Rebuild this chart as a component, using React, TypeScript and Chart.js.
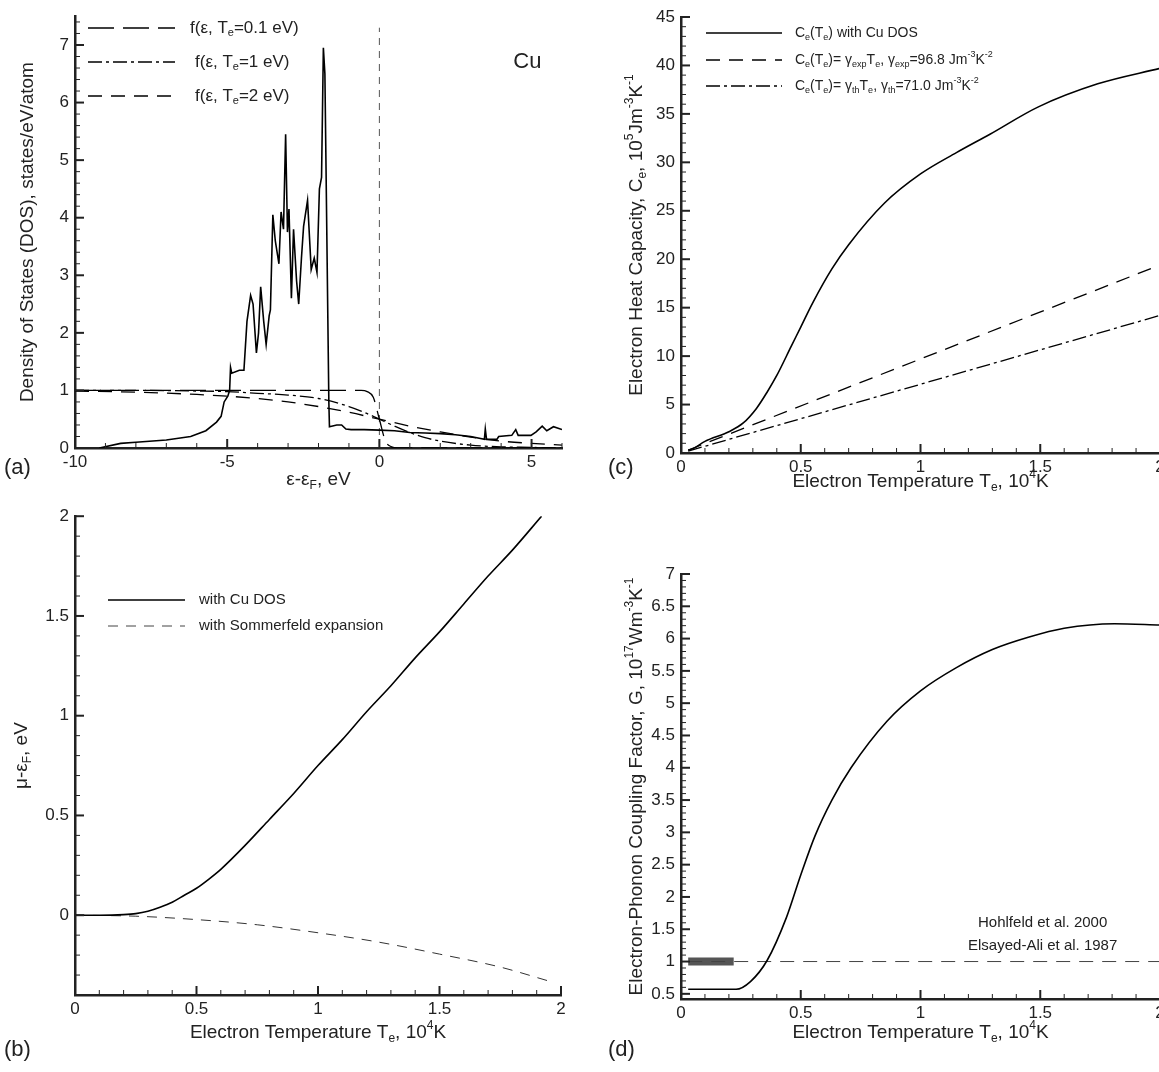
import React, { useRef, useEffect } from "react";
import Chart from "chart.js/auto";

const FONT = "'Liberation Sans', Arial, sans-serif";
const INK = "#222";

// ---- (a) density of states and Fermi functions
const dosE = [-9.2, -8.5, -8, -7, -6.2, -5.7, -5.35, -5.2, -5.1, -4.98, -4.92, -4.89, -4.85, -4.6, -4.45, -4.35, -4.23, -4.15, -4.04, -3.97, -3.9, -3.8, -3.72, -3.62, -3.58, -3.5, -3.42, -3.3, -3.23, -3.15, -3.08, -3.02, -2.97, -2.89, -2.82, -2.72, -2.65, -2.56, -2.49, -2.36, -2.24, -2.14, -2.05, -1.97, -1.9, -1.84, -1.79, -1.66, -1.64, -1.4, -1.24, -1.1, -0.93, -0.5, 0, 0.5, 1, 1.5, 2, 2.5, 3, 3.45, 3.48, 3.52, 3.86, 3.92, 4.35, 4.48, 4.56, 4.98, 5.15, 5.35, 5.5, 5.72, 6];
const dosV = [0, 0.08, 0.1, 0.14, 0.2, 0.3, 0.45, 0.55, 0.8, 0.9, 1.0, 1.4, 1.3, 1.35, 1.35, 2.2, 2.65, 2.5, 1.65, 2.0, 2.8, 2.2, 1.8, 2.3, 2.4, 4.05, 3.6, 3.2, 4.1, 3.8, 5.45, 3.75, 4.15, 2.6, 3.8, 2.9, 2.5, 3.3, 3.85, 4.3, 3.1, 3.3, 3.05, 4.5, 4.7, 6.95, 6.5, 0.8, 0.37, 0.4, 0.4, 0.33, 0.32, 0.32, 0.31, 0.3, 0.27, 0.26, 0.25, 0.23, 0.2, 0.15, 0.33, 0.15, 0.15, 0.2, 0.22, 0.32, 0.22, 0.22, 0.28, 0.38, 0.3, 0.37, 0.32];
const f01E = [-10, -0.6, -0.4, -0.2, 0, 0.2, 0.4, 0.6, 6];
const f01V = [1, 1, 0.98, 0.88, 0.5, 0.12, 0.02, 0, 0];
const f1E = [-10, -8, -6, -5, -4, -3, -2, -1, -0.5, 0, 0.5, 1, 1.5, 2, 3, 4, 5, 6];
const f1V = [1, 1, 0.99, 0.98, 0.95, 0.92, 0.86, 0.72, 0.62, 0.5, 0.38, 0.27, 0.18, 0.12, 0.05, 0.02, 0.01, 0];
const f2E = [-10, -8, -6, -5, -4, -3, -2, -1, 0, 1, 2, 3, 4, 5, 6];
const f2V = [0.99, 0.97, 0.93, 0.9, 0.86, 0.8, 0.72, 0.62, 0.5, 0.38, 0.28, 0.19, 0.12, 0.08, 0.05];

// ---- (b) chemical potential
const muT = [0, 0.1, 0.2, 0.25, 0.3, 0.35, 0.4, 0.45, 0.5, 0.55, 0.6, 0.7, 0.8, 0.9, 1, 1.1, 1.2, 1.3, 1.4, 1.5, 1.6, 1.7, 1.8, 1.92];
const muDos = [0, 0, 0.003, 0.008, 0.02, 0.04, 0.065, 0.1, 0.135, 0.18, 0.23, 0.35, 0.48, 0.61, 0.75, 0.88, 1.02, 1.15, 1.29, 1.42, 1.56, 1.7, 1.83, 2.0];
const sommT = [0, 0.25, 0.5, 0.75, 1, 1.25, 1.5, 1.75, 1.95];
const sommV = [0, -0.005, -0.022, -0.048, -0.088, -0.135, -0.195, -0.26, -0.33];

// ---- (c) heat capacity
const ceT = [0.03, 0.05, 0.1, 0.2, 0.26, 0.315, 0.36, 0.4, 0.46, 0.5, 0.55, 0.63, 0.7, 0.85, 1.0, 1.15, 1.29, 1.49, 1.74, 2.0];
const ceDos = [0.3, 0.45, 1.2, 2.2, 3.1, 4.6, 6.3, 8.0, 11.0, 13.0, 15.5, 19.0, 21.5, 25.8, 28.8, 31.0, 32.9, 35.7, 38.1, 39.7];
const linT = [0.03, 2.0];
const ceExp = [0.3, 19.4];
const ceTh = [0.2, 14.2];

// ---- (d) coupling factor
const gT = [0.03, 0.23, 0.29, 0.36, 0.44, 0.5, 0.56, 0.63, 0.71, 0.86, 1.0, 1.15, 1.3, 1.45, 1.6, 1.81, 2.0];
const gV = [0.57, 0.57, 0.69, 1.02, 1.68, 2.34, 2.95, 3.5, 4.0, 4.72, 5.19, 5.55, 5.83, 6.02, 6.16, 6.23, 6.21];
const expT = [0.03, 2.0];
const expV = [1, 1];
const barT = [0.03, 0.22];
const barV = [1, 1];

const pts = (xs: number[], ys: number[]) => xs.map((x, i) => ({ x, y: ys[i] }));

// text with _{sub} and ^{sup}
function parseRich(s: string) {
  const out: { t: string; m: number }[] = [];
  const re = /([_^])\{([^}]*)\}/g;
  let last = 0;
  let m: RegExpExecArray | null;
  while ((m = re.exec(s))) {
    if (m.index > last) out.push({ t: s.slice(last, m.index), m: 0 });
    out.push({ t: m[2], m: m[1] === "_" ? -1 : 1 });
    last = re.lastIndex;
  }
  if (last < s.length) out.push({ t: s.slice(last), m: 0 });
  return out;
}

function drawRich(ctx: CanvasRenderingContext2D, s: string, x: number, y: number, size: number, align = "left", rot = 0) {
  const segs = parseRich(s);
  const small = Math.round(size * 0.62);
  let w = 0;
  for (const g of segs) {
    ctx.font = `${g.m ? small : size}px ${FONT}`;
    w += ctx.measureText(g.t).width;
  }
  ctx.save();
  ctx.translate(x, y);
  ctx.rotate(rot);
  ctx.fillStyle = INK;
  ctx.textBaseline = "middle";
  ctx.textAlign = "left";
  let cx = align === "center" ? -w / 2 : 0;
  for (const g of segs) {
    ctx.font = `${g.m ? small : size}px ${FONT}`;
    const dy = g.m === -1 ? size * 0.3 : g.m === 1 ? -size * 0.38 : 0;
    ctx.fillText(g.t, cx, dy);
    cx += ctx.measureText(g.t).width;
  }
  ctx.restore();
}

// inward major / minor tick marks, axis titles, legends and notes
const decor = {
  id: "decor",
  afterDraw(chart: any) {
    const o = chart.options.plugins.decor;
    const ctx = chart.ctx as CanvasRenderingContext2D;
    const xs = chart.scales.x;
    const ys = chart.scales.y;
    const a = chart.chartArea;
    ctx.save();
    ctx.strokeStyle = INK;
    const tick = (scale: any, minor: number, horiz: boolean) => {
      const eps = 1e-6;
      const start = Math.ceil((scale.min - eps) / minor) * minor;
      for (let v = start; v <= scale.max + eps; v += minor) {
        const isMajor = scale.ticks.some((t: any) => Math.abs(t.value - v) < minor / 10);
        const len = isMajor ? 9 : 5;
        ctx.lineWidth = isMajor ? 2 : 1;
        const p = scale.getPixelForValue(v);
        ctx.beginPath();
        if (horiz) {
          ctx.moveTo(p, a.bottom);
          ctx.lineTo(p, a.bottom - len);
        } else {
          ctx.moveTo(a.left, p);
          ctx.lineTo(a.left + len, p);
        }
        ctx.stroke();
      }
    };
    tick(xs, o.xMinor, true);
    tick(ys, o.yMinor, false);
    ctx.restore();

    drawRich(ctx, o.xTitle, (a.left + a.right) / 2, o.xTitleY, 19, "center");
    drawRich(ctx, o.yTitle, o.yTitleX, (a.top + a.bottom) / 2, 19, "center", -Math.PI / 2);

    for (const l of o.legend || []) {
      ctx.save();
      ctx.strokeStyle = l.color || "#000";
      ctx.lineWidth = l.width || 1.5;
      ctx.setLineDash(l.dash || []);
      ctx.beginPath();
      ctx.moveTo(l.x0, l.y);
      ctx.lineTo(l.x1, l.y);
      ctx.stroke();
      ctx.restore();
      drawRich(ctx, l.text, l.tx, l.y, l.size);
    }
    for (const n of o.notes || []) {
      drawRich(ctx, n.text, xs.getPixelForValue(n.x), ys.getPixelForValue(n.y), n.size, n.align);
    }
  },
};

function ds(data: any[], dash: number[], width = 1.5, color = "#000", smooth = false) {
  return {
    data,
    borderColor: color,
    borderWidth: width,
    borderDash: dash,
    pointRadius: 0,
    fill: false,
    cubicInterpolationMode: smooth ? "monotone" : "default",
    tension: 0,
    borderCapStyle: "butt",
  };
}

const fmt = (v: any) => String(Math.round(Number(v) * 100) / 100);

function makeConfig(p: any) {
  const { W, H, area } = p;
  return {
    type: "line",
    data: { datasets: p.datasets },
    options: {
      animation: false,
      responsive: false,
      layout: { padding: { left: 0, right: W - area.right, top: area.top, bottom: 0 } },
      plugins: { legend: { display: false }, tooltip: { enabled: false }, decor: p.decor },
      scales: {
        x: {
          type: "linear",
          min: p.x[0],
          max: p.x[1],
          grid: { display: false, drawTicks: false },
          border: { display: true, width: 2.5, color: INK },
          ticks: { stepSize: p.x[2], includeBounds: false, padding: 4, color: INK, font: { family: FONT, size: 17 }, maxRotation: 0, autoSkip: false, callback: fmt },
          afterFit: (s: any) => { s.height = H - area.bottom; },
        },
        y: {
          type: "linear",
          min: p.y[0],
          max: p.y[1],
          grid: { display: false, drawTicks: false },
          border: { display: true, width: 2.5, color: INK },
          ticks: { stepSize: p.y[2], includeBounds: false, padding: 6, color: INK, font: { family: FONT, size: 17 }, autoSkip: false, callback: fmt },
          afterFit: (s: any) => { s.width = area.left; },
        },
      },
    },
  };
}

const dash01 = [26, 9];
const dash1 = [14, 4, 3, 4];
const dash2 = [14, 9];

const panels = [
  {
    left: 0, top: 0, W: 600, H: 500,
    area: { left: 75, right: 562, top: 12, bottom: 448 },
    x: [-10, 6, 5], y: [0, 7.5, 1],
    datasets: [
      ds(pts(dosE, dosV), [], 1.6),
      ds(pts(f01E, f01V), dash01, 1.3, "#000", true),
      ds(pts(f1E, f1V), dash1, 1.3, "#000", true),
      ds(pts(f2E, f2V), dash2, 1.3, "#000", true),
      ds([{ x: 0, y: 0 }, { x: 0, y: 7.3 }], [7, 6], 1, "#555"),
    ],
    decor: {
      xMinor: 1, yMinor: 0.2,
      xTitle: "ε-ε_{F}, eV", xTitleY: 480,
      yTitle: "Density of States (DOS), states/eV/atom", yTitleX: 28,
      legend: [
        { x0: 88, x1: 175, y: 28, dash: dash01, text: "f(ε, T_{e}=0.1 eV)", tx: 190, size: 17 },
        { x0: 88, x1: 175, y: 62, dash: dash1, text: "f(ε, T_{e}=1 eV)", tx: 195, size: 17 },
        { x0: 88, x1: 175, y: 96, dash: dash2, text: "f(ε, T_{e}=2 eV)", tx: 195, size: 17 },
      ],
      notes: [{ text: "Cu", x: 4.4, y: 6.7, size: 22, align: "left" }],
    },
  },
  {
    left: 0, top: 500, W: 600, H: 572,
    area: { left: 75, right: 561, top: 14, bottom: 495 },
    x: [0, 2, 0.5], y: [-0.4, 2, 0.5],
    datasets: [
      ds(pts(muT, muDos), [], 1.6, "#000", true),
      ds(pts(sommT, sommV), [10, 8], 1, "#333", true),
    ],
    decor: {
      xMinor: 0.1, yMinor: 0.1,
      xTitle: "Electron Temperature T_{e}, 10^{4}K", xTitleY: 533,
      yTitle: "μ-ε_{F}, eV", yTitleX: 22,
      legend: [
        { x0: 108, x1: 185, y: 100, dash: [], text: "with Cu DOS", tx: 199, size: 15 },
        { x0: 108, x1: 185, y: 126, dash: [10, 8], width: 1, color: "#444", text: "with Sommerfeld expansion", tx: 199, size: 15 },
      ],
    },
  },
  {
    left: 600, top: 0, W: 600, H: 500,
    area: { left: 81, right: 560, top: 17, bottom: 453 },
    x: [0, 2, 0.5], y: [0, 45, 5],
    datasets: [
      ds(pts(ceT, ceDos), [], 1.6, "#000", true),
      ds(pts(linT, ceExp), [14, 9], 1.3),
      ds(pts(linT, ceTh), dash1, 1.3),
    ],
    decor: {
      xMinor: 0.1, yMinor: 1,
      xTitle: "Electron Temperature T_{e}, 10^{4}K", xTitleY: 482,
      yTitle: "Electron Heat Capacity, C_{e}, 10^{5}Jm^{-3}K^{-1}", yTitleX: 37,
      legend: [
        { x0: 106, x1: 182, y: 33, dash: [], text: "C_{e}(T_{e}) with Cu DOS", tx: 195, size: 14 },
        { x0: 106, x1: 182, y: 60, dash: [14, 9], text: "C_{e}(T_{e})= γ_{exp}T_{e}, γ_{exp}=96.8 Jm^{-3}K^{-2}", tx: 195, size: 14 },
        { x0: 106, x1: 182, y: 86, dash: dash1, text: "C_{e}(T_{e})= γ_{th}T_{e}, γ_{th}=71.0 Jm^{-3}K^{-2}", tx: 195, size: 14 },
      ],
    },
  },
  {
    left: 600, top: 500, W: 600, H: 572,
    area: { left: 81, right: 560, top: 74, bottom: 499 },
    x: [0, 2, 0.5], y: [0.42, 7, 0.5],
    datasets: [
      ds(pts(gT, gV), [], 1.6, "#000", true),
      ds(pts(expT, expV), [14, 9], 1, "#444"),
      ds(pts(barT, barV), [], 8, "#555"),
    ],
    decor: {
      xMinor: 0.1, yMinor: 0.1,
      xTitle: "Electron Temperature T_{e}, 10^{4}K", xTitleY: 533,
      yTitle: "Electron-Phonon Coupling Factor, G, 10^{17}Wm^{-3}K^{-1}", yTitleX: 37,
      notes: [
        { text: "Hohlfeld et al. 2000", x: 1.51, y: 1.6, size: 15, align: "center" },
        { text: "Elsayed-Ali et al. 1987", x: 1.51, y: 1.25, size: 15, align: "center" },
      ],
    },
  },
];

function Panel({ p }: { p: any }) {
  const ref = useRef<HTMLCanvasElement>(null);
  useEffect(() => {
    const canvas = ref.current;
    if (!canvas) return;
    const chart = new Chart(canvas, { ...(makeConfig(p) as any), plugins: [decor] });
    return () => chart.destroy();
  }, []);
  return (
    <canvas
      ref={ref}
      width={p.W}
      height={p.H}
      style={{ position: "absolute", left: p.left, top: p.top, width: p.W, height: p.H }}
    />
  );
}

const tag = (t: string, left: number, top: number) => (
  <div style={{ position: "absolute", left, top, font: `22px ${FONT}`, color: INK }}>{t}</div>
);

export default function App() {
  useEffect(() => {
    document.body.style.overflow = "hidden";
  }, []);
  return (
    <div style={{ position: "fixed", left: 0, top: 0, width: 1159, height: 1072, overflow: "hidden", background: "#fff" }}>
      {panels.map((p, i) => (
        <Panel key={i} p={p} />
      ))}
      {tag("(a)", 4, 454)}
      {tag("(b)", 4, 1036)}
      {tag("(c)", 608, 454)}
      {tag("(d)", 608, 1036)}
    </div>
  );
}
